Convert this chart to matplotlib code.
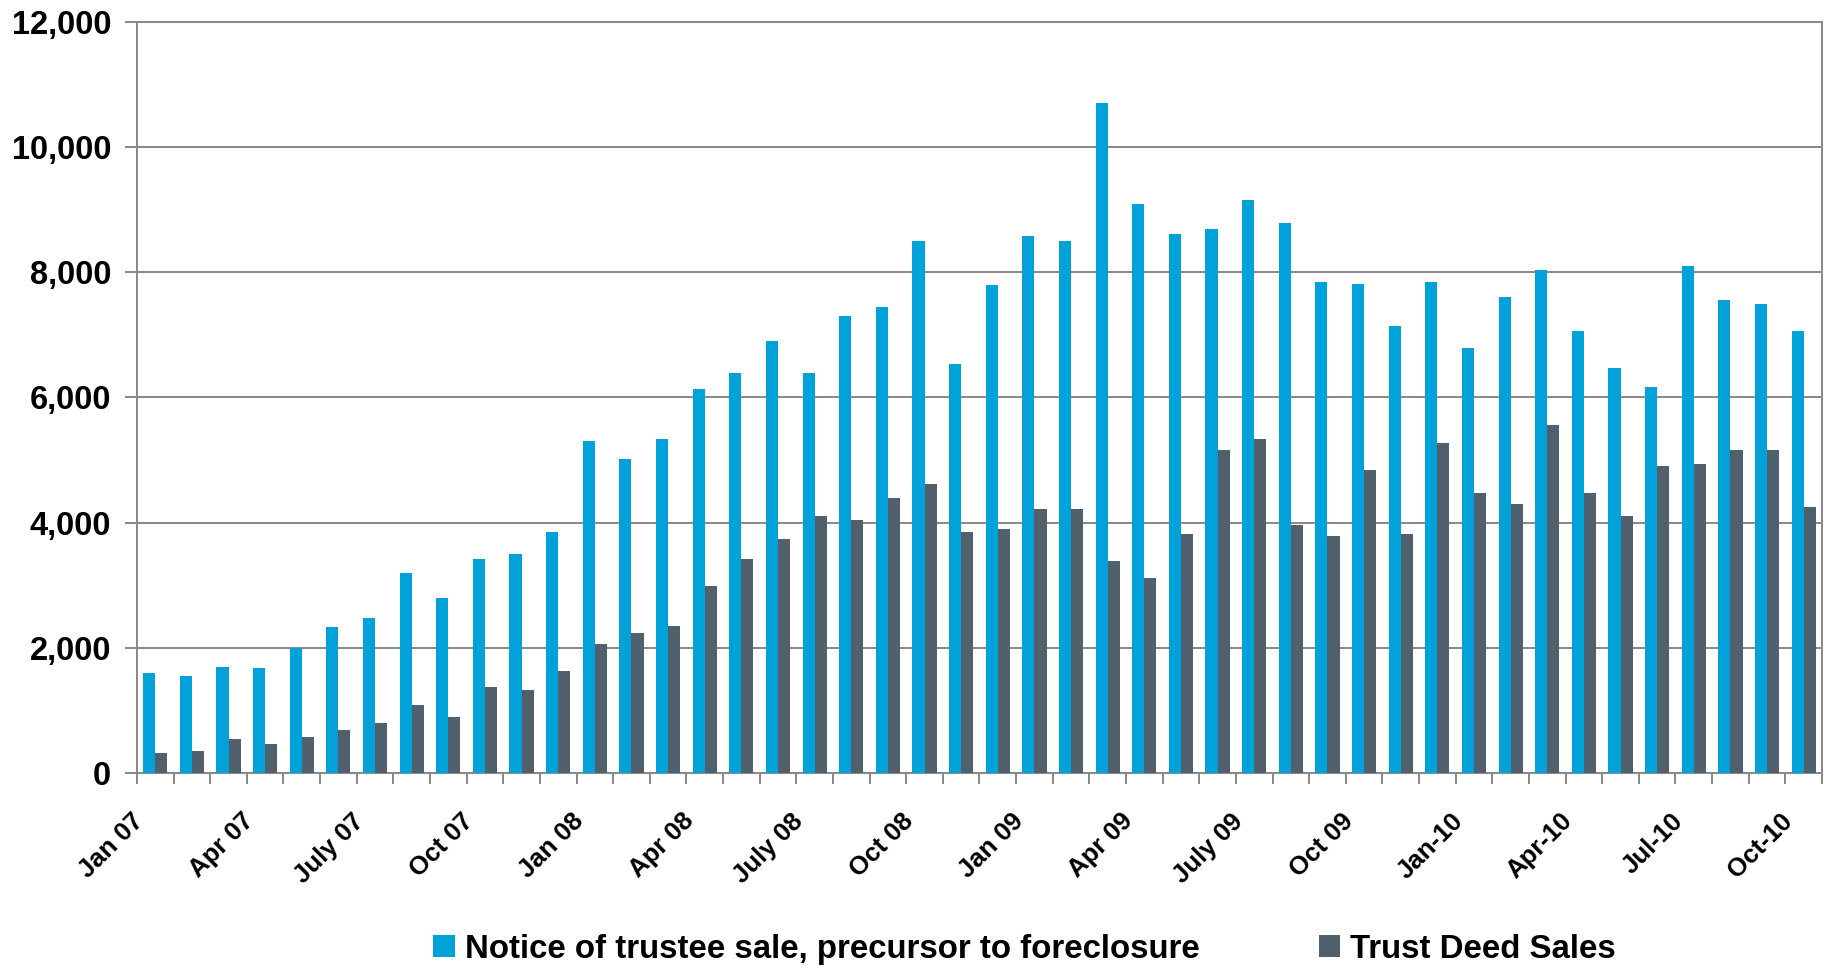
import matplotlib.pyplot as plt
import matplotlib.transforms as mtransforms
from matplotlib.ticker import FuncFormatter
import numpy as np

plt.rcParams['font.family'] = ['Liberation Sans', 'DejaVu Sans']
plt.rcParams['font.weight'] = 'bold'

# monthly counts, Jan 07 .. Oct 10
notice = [1590, 1555, 1700, 1670, 1995, 2330, 2470, 3195, 2795, 3420, 3500, 3855,
          5300, 5020, 5335, 6130, 6390, 6900, 6390, 7300, 7440, 8505, 6530, 7790,
          8585, 8505, 10700, 9095, 8615, 8700, 9160, 8795, 7850, 7820, 7135, 7850,
          6785, 7610, 8045, 7055, 6465, 6165, 8105, 7565, 7500, 7055]
deed = [316, 350, 540, 460, 575, 686, 800, 1090, 895, 1380, 1330, 1635,
        2068, 2240, 2355, 2980, 3412, 3735, 4100, 4037, 4390, 4612, 3845, 3893,
        4214, 4214, 3380, 3123, 3813, 5160, 5335, 3957, 3781, 4840, 3813, 5271,
        4471, 4294, 5558, 4471, 4102, 4904, 4936, 5160, 5160, 4246]
tick_labels = ['Jan 07', 'Apr 07', 'July 07', 'Oct 07', 'Jan 08', 'Apr 08', 'July 08', 'Oct 08',
               'Jan 09', 'Apr 09', 'July 09', 'Oct 09', 'Jan-10', 'Apr-10', 'Jul-10', 'Oct-10']

blue = '#00A2D9'
slate = '#51606D'
grey = '#888888'

x = np.arange(len(notice))

fig = plt.figure(figsize=(18.33, 9.69), dpi=100)
ax = fig.add_axes([0.0747, 0.2023, 0.9193, 0.7750])

w = 0.33
b1 = ax.bar(x - w / 2, notice, w, color=blue, zorder=3,
            label='Notice of trustee sale, precursor to foreclosure')
b2 = ax.bar(x + w / 2, deed, w, color=slate, zorder=3, label='Trust Deed Sales')

ax.set_xlim(-0.5, len(notice) - 0.5)
ax.set_ylim(0, 12000)
ax.set_yticks(range(0, 12001, 2000))
ax.yaxis.set_major_formatter(FuncFormatter(lambda v, p: f'{int(v):,}'))
ax.yaxis.grid(True, color=grey, linewidth=1.4, zorder=0)
ax.set_axisbelow(True)

for s in ax.spines.values():
    s.set_color(grey)
    s.set_linewidth(1.4)

ax.tick_params(axis='y', length=8.6, width=1.4, color=grey, pad=10, labelsize=23.5)

ax.set_xticks(x[::3])
ax.set_xticklabels(tick_labels, rotation=45, ha='right', va='center',
                   rotation_mode='anchor', fontsize=18.5)
ax.set_xticks(np.arange(-0.5, len(notice), 1), minor=True)
ax.tick_params(axis='x', which='major', length=0, pad=32)
ax.tick_params(axis='x', which='minor', length=7.7, width=1.4, color=grey)

shift = mtransforms.ScaledTranslation(-0.15, 0, fig.dpi_scale_trans)
for lab in ax.get_xticklabels():
    lab.set_transform(lab.get_transform() + shift)

fig.legend(handles=[b1, b2], loc='center', bbox_to_anchor=(0.559, 0.0206), ncol=2,
           frameon=False, fontsize=23.8, handlelength=0.65, handleheight=0.65,
           handletextpad=0.3, columnspacing=3.6)

fig.savefig('out.png', dpi=100)
